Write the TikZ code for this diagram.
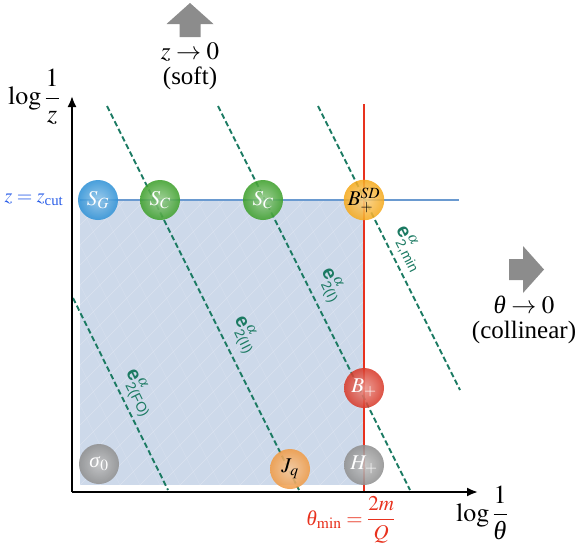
\documentclass[tikz,border=0pt]{standalone}
\usepackage{mathptmx}
\usepackage{amsmath}
\usepackage[no-math]{fontspec}
\setmainfont{Liberation Serif}
\setsansfont{Liberation Sans}
\usetikzlibrary{arrows.meta}
\definecolor{dgreen}{HTML}{1B7A62}
\definecolor{regblue}{HTML}{CDD9EA}
\definecolor{cutblue}{HTML}{6A9AD0}
\definecolor{txtblue}{HTML}{2A5EE8}
\definecolor{minred}{HTML}{E8321E}
\definecolor{arrgray}{HTML}{8C8C8C}
\definecolor{cgray}{HTML}{909090}
\definecolor{cblue}{HTML}{3092D6}
\definecolor{cgreen}{HTML}{3EA02C}
\definecolor{cyellow}{HTML}{F5AA1E}
\definecolor{cred}{HTML}{D83A2A}
\definecolor{corange}{HTML}{F09B46}
\tikzset{
  ball/.style={circle, minimum size=40pt, inner sep=0pt, shading=radial, fill opacity=0.88, text opacity=1},
  bl/.style={ball, inner color=#1!55!white, outer color=#1},
  dline/.style={draw=dgreen, line width=1.9pt, dash pattern=on 5.5pt off 3pt},
  elab/.style={text=dgreen, rotate=-63.43, inner sep=0pt, font=\fontsize{20}{22}\selectfont},
  axis/.style={line width=2pt, -{Latex[length=11pt,width=9pt]}},
  big/.style={font=\fontsize{25}{28}\selectfont, align=center, inner sep=0pt},
  axl/.style={font=\fontsize{26}{28}\selectfont, inner sep=0pt},
  wt/.style={text=white, font=\fontsize{21}{23}\selectfont},
  bt/.style={text=black, font=\fontsize{21}{23}\selectfont},
}
\newcommand{\elbl}[1]{{\sffamily\bfseries e}$^{\alpha}_{\text{\sffamily\fontsize{14}{15}\selectfont #1}}$}
\newcommand{\thit}{\textit{θ}}
\begin{document}
\begin{tikzpicture}[x=1pt,y=-1pt]
\useasboundingbox (0,0) rectangle (581,547);
% shaded region
\fill[regblue] (80,200) rectangle (364,485);
\begin{scope}
\clip (80,200) rectangle (364,485);
\foreach \i in {0,...,30} {
  \draw[white!60!regblue, line width=0.4pt, opacity=0.45] (80+\i*20-300,485) -- (80+\i*20,185);
  \draw[white!60!regblue, line width=0.4pt, opacity=0.35] (80+\i*20-150,185) -- (80+\i*20,485);
}
\end{scope}
% coordinates
\coordinate (cutL) at (80,200);
\coordinate (cutR) at (459,200);
\coordinate (redT) at (364,104);
\coordinate (redB) at (364,492);
\coordinate (O) at (72,492);
\coordinate (yT) at (72,96);
\coordinate (xR) at (478,492);
\coordinate (a1) at (73,298);   \coordinate (b1) at (168,490);
\coordinate (a2) at (107,106);  \coordinate (b2) at (299,490);
\coordinate (a3) at (218,106);  \coordinate (b3) at (410,490);
\coordinate (a4) at (318,106);  \coordinate (b4) at (460,390);
% lines
\draw[cutblue, line width=2pt] (cutL) -- (cutR);
\draw[minred, line width=2pt] (redT) -- (redB);
\draw[dline] (a1) -- (b1);
\draw[dline] (a2) -- (b2);
\draw[dline] (a3) -- (b3);
\draw[dline] (a4) -- (b4);
% axes
\draw[axis] (O) -- (yT);
\draw[axis] (O) -- (xR);
% balls
\node[bl=cgray, wt] (sig) at (99,464) {\textit{σ}$_0$};
\node[bl=cblue, wt] (SG) at (98,200) {$S_G$};
\node[bl=cgreen, wt] (SC1) at (160,200) {$S_C$};
\node[bl=cgreen, wt] (SC2) at (263,200) {$S_C$};
\node[bl=cyellow, bt] (BSD) at (364,200) {$B_+^{SD}$};
\node[bl=cred, wt] (Bp) at (364,388) {$B_+$};
\node[bl=cgray, wt] (Hp) at (364,465) {$H_+$};
\node[bl=corange, bt] (Jq) at (290,469) {$J_q$};
% dashed line labels
\node[elab] (l1) at (139,393) {\elbl{2(FO)}};
\node[elab] (l2) at (245,335) {\elbl{2(II)}};
\node[elab] (l3) at (331,285) {\elbl{2(I)}};
\node[elab] (l4) at (409,249) {\elbl{2,min}};
% block arrows
\fill[arrgray] (190,3) -- (213.5,24) -- (200.5,24) -- (200.5,37) -- (179.5,37) -- (179.5,24) -- (166.5,24) -- cycle;
\fill[arrgray] (544,269.5) -- (523,246) -- (523,259) -- (509,259) -- (509,280) -- (523,280) -- (523,293) -- cycle;
% texts
\node[big] (soft) at (190,66) {$z\rightarrow 0$\\[-3pt](soft)};
\node[big] (coll) at (524,320) {\thit$\;\rightarrow 0$\\[-3pt](collinear)};
\node[axl] (ylab) at (34,97) {$\log\dfrac{1}{z}$};
\node[axl] (xlab) at (482,513) {$\log\dfrac{1}{\text{\thit}}$};
\node[text=minred, font=\fontsize{21}{24}\selectfont, inner sep=0pt] (tmin) at (351,520) {\thit$_{\min}=\dfrac{2m}{Q}$};
\node[text=txtblue, font=\fontsize{20}{22}\selectfont, inner sep=0pt] (zcut) at (34,200) {$z=z_{\text{cut}}$};
\end{tikzpicture}
\end{document}
